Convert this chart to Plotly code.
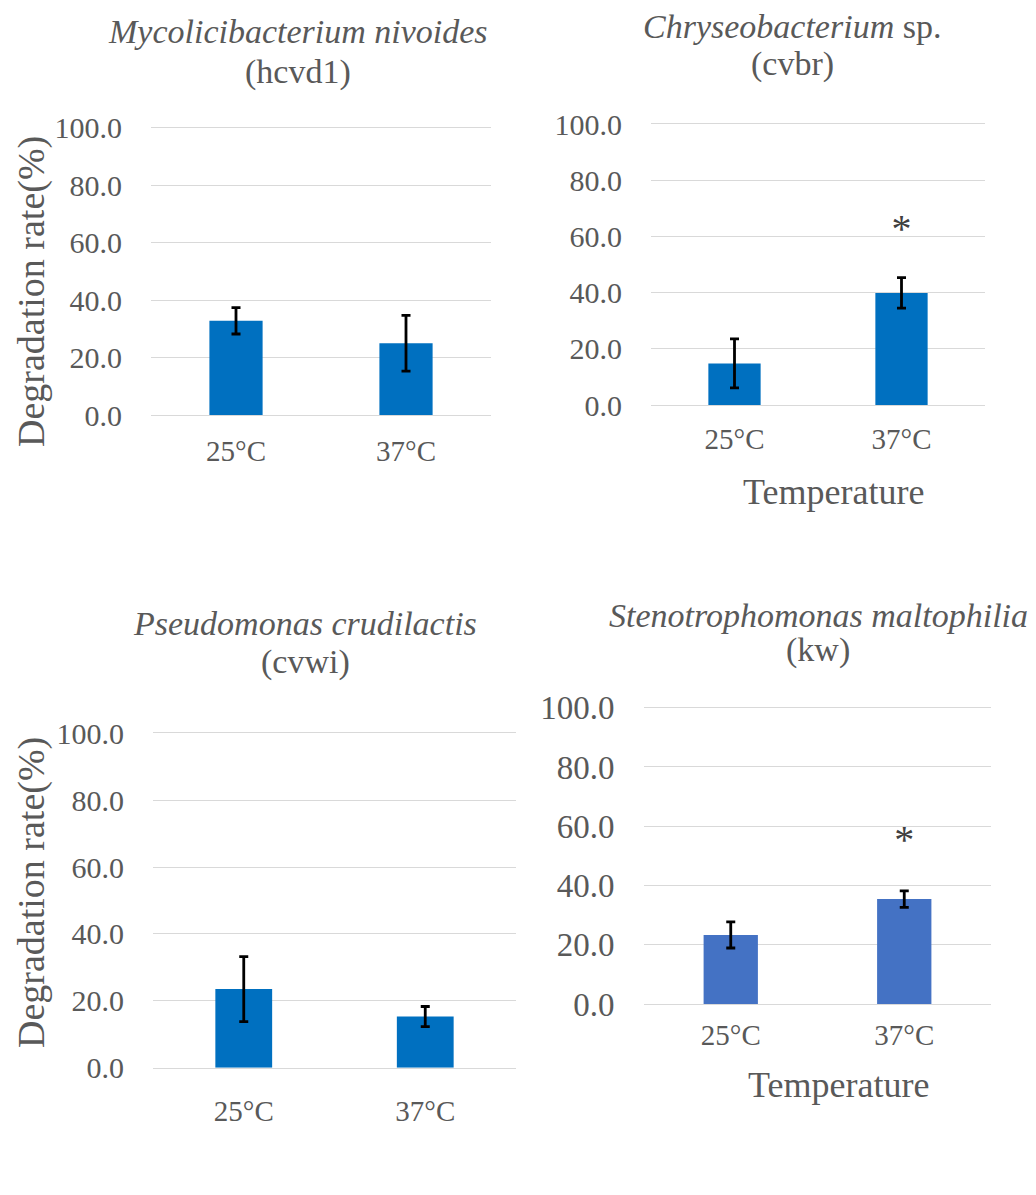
import plotly.graph_objects as go

W, H = 1036, 1195
OFF = 8  # page body margin of the browser; layout is authored in page pixels

# ---------------- data ----------------
temps = ["25°C", "37°C"]
strain_names = ["<i>Mycolicibacterium nivoides</i>",
                "<i>Chryseobacterium</i> sp.",
                "<i>Pseudomonas crudilactis</i>",
                "<i>Stenotrophomonas maltophilia</i>"]
strain_codes = ["(hcvd1)", "(cvbr)", "(cvwi)", "(kw)"]

myco_mean = [32.8, 25.0]
myco_err = [4.6, 9.7]
chry_mean = [14.8, 39.9]
chry_err = [8.7, 5.4]
pseu_mean = [23.5, 15.3]
pseu_err = [9.7, 3.0]
sten_mean = [23.3, 35.4]
sten_err = [4.4, 2.8]

myco_sig = ["", ""]
chry_sig = ["", "*"]
pseu_sig = ["", ""]
sten_sig = ["", "*"]

y_ticks = [0, 20, 40, 60, 80, 100]
y_title = "Degradation rate(%)"
x_title = "Temperature"

# ---------------- style ----------------
FONT = "Liberation Serif"
GRAY = "#595959"
GRID = "#D9D9D9"


def px(x):
    return (x - OFF) / W


def py(y):
    return 1 - (y - OFF) / H


panels = [
    dict(mean=myco_mean, err=myco_err, sig=myco_sig, color="#0070C0",
         box=(151, 491, 127.7, 415), title_xy=(298, 32, 72), ytitle_y=292,
         xtitle=None, tickfs=30, tl=10),
    dict(mean=chry_mean, err=chry_err, sig=chry_sig, color="#0070C0",
         box=(651, 985, 124, 405), title_xy=(792, 26, 64), ytitle_y=None,
         xtitle=(833, 492), tickfs=30, tl=8),
    dict(mean=pseu_mean, err=pseu_err, sig=pseu_sig, color="#0070C0",
         box=(153, 516, 733.3, 1067.7), title_xy=(305, 623, 662), ytitle_y=893,
         xtitle=None, tickfs=30, tl=17),
    dict(mean=sten_mean, err=sten_err, sig=sten_sig, color="#4472C4",
         box=(644, 991, 707.7, 1004), title_xy=(818, 615, 650), ytitle_y=None,
         xtitle=(838, 1085), tickfs=33, tl=5),
]

fig = go.Figure()
annotations = []
layout = dict(
    width=W, height=H,
    margin=dict(l=0, r=0, t=0, b=0, pad=0, autoexpand=False),
    paper_bgcolor="white", plot_bgcolor="white",
    showlegend=False,
    font=dict(family=FONT, color=GRAY),
)

for i, p in enumerate(panels):
    n = "" if i == 0 else str(i + 1)
    xa, ya = "x" + n, "y" + n
    x0, x1, y0, y1 = p["box"]

    fig.add_trace(go.Bar(
        x=temps, y=p["mean"], width=0.313,
        marker=dict(color=p["color"], line=dict(width=0)),
        error_y=dict(type="data", array=p["err"], color="black",
                     thickness=2.8, width=4.5),
        xaxis=xa, yaxis=ya,
    ))
    sig_y = [m + e + 16.1 for m, e in zip(p["mean"], p["err"])]
    fig.add_trace(go.Scatter(
        x=temps, y=sig_y, text=p["sig"], mode="text",
        textposition="middle center",
        textfont=dict(family=FONT, size=40, color="#404040"),
        xaxis=xa, yaxis=ya, hoverinfo="skip",
    ))

    layout["xaxis" + n] = dict(
        domain=[px(x0), px(x1)], anchor=ya, automargin=False,
        type="category", categoryorder="array", categoryarray=temps,
        showgrid=False, zeroline=False,
        showline=True, mirror=True, linecolor=GRID, linewidth=1.3,
        ticks="outside", ticklen=p["tl"], tickcolor="rgba(0,0,0,0)",
        tickfont=dict(family=FONT, size=29, color=GRAY),
    )
    layout["yaxis" + n] = dict(
        domain=[py(y1), py(y0)], anchor=xa, automargin=False,
        range=[0, 100], tickvals=y_ticks, tickformat=".1f",
        showgrid=True, gridcolor=GRID, gridwidth=1.3,
        zeroline=False, showline=False,
        ticks="outside", ticklen=22, tickcolor="rgba(0,0,0,0)",
        tickfont=dict(family=FONT, size=p["tickfs"], color=GRAY),
    )

    tx, ty1, ty2 = p["title_xy"]
    annotations.append(dict(
        text=strain_names[i], xref="paper", yref="paper",
        x=px(tx), y=py(ty1), xanchor="center", yanchor="middle",
        showarrow=False, font=dict(family=FONT, size=34, color=GRAY)))
    annotations.append(dict(
        text=strain_codes[i], xref="paper", yref="paper",
        x=px(tx), y=py(ty2), xanchor="center", yanchor="middle",
        showarrow=False, font=dict(family=FONT, size=34, color=GRAY)))

    if p["ytitle_y"] is not None:
        annotations.append(dict(
            text=y_title, xref="paper", yref="paper",
            x=px(31), y=py(p["ytitle_y"]), xanchor="center", yanchor="middle",
            textangle=-90, showarrow=False,
            font=dict(family=FONT, size=38, color=GRAY)))
    if p["xtitle"] is not None:
        cx, cy = p["xtitle"]
        annotations.append(dict(
            text=x_title, xref="paper", yref="paper",
            x=px(cx), y=py(cy), xanchor="center", yanchor="middle",
            showarrow=False, font=dict(family=FONT, size=36, color=GRAY)))

layout["annotations"] = annotations
fig.update_layout(**layout)
fig.write_html("out.html")
